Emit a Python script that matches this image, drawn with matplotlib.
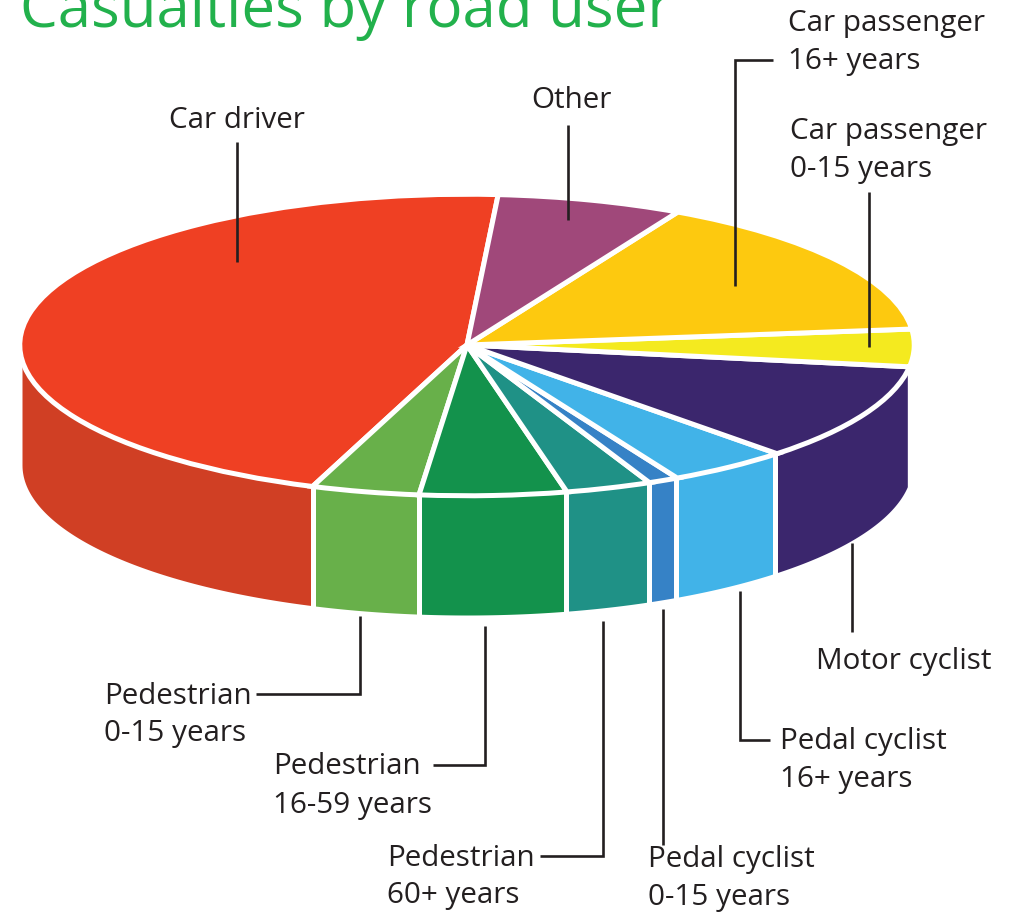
"""
Casualties by road user, drawn as a tilted pie with a side wall.
"""

import numpy as np
from matplotlib import pyplot as plt

TITLE = 'Casualties by road user'

# going anticlockwise from the top of the pie
labels = ['Car driver', 'Pedestrian\n0-15 years', 'Pedestrian\n16-59 years', 'Pedestrian\n60+ years',
          'Pedal cyclist\n0-15 years', 'Pedal cyclist\n16+ years', 'Motor cyclist',
          'Car passenger\n0-15 years', 'Car passenger\n16+ years', 'Other']
shares = [45.5, 3.9, 5.3, 3.1, 1.1, 4.4, 10.5, 4.0, 15.5, 6.7]
colors = ['#EF4023', '#68B04A', '#13924C', '#1F9186', '#3682C6', '#41B3E8', '#3B266D',
          '#F4EA1F', '#FDC90F', '#A0487A']
wall_colors = ['#D03F24', '#68B04A', '#13924C', '#1F9186', '#3682C6', '#41B3E8', '#3B266D',
               '#F4EA1F', '#FDC90F', '#A0487A']

W, H = 1013, 913
CX, CY = 467, 345
RX, RY, DEPTH = 445, 150, 120
INK = '#231F20'
FONT = 'Open Sans'

fig = plt.figure(figsize=(W / 100, H / 100), dpi=100)
ax = fig.add_axes([0, 0, 1, 1])
wedges, _ = ax.pie(shares, colors=colors, startangle=86.0, radius=1.005,
                   wedgeprops={'edgecolor': 'white', 'linewidth': 3.6, 'zorder': 3})

# squash the pie: one data unit is RX pixels across and RY pixels down
ax.set_aspect('auto')
ax.set_xlim(-CX / RX, (W - CX) / RX)
ax.set_ylim((CY - H) / RY, CY / RY)

depth = DEPTH / RY
for wedge, wall_color in zip(wedges, wall_colors):
    if wedge.theta2 > 360 or wedge.theta2 <= 180:
        continue
    t = np.radians(np.linspace(max(wedge.theta1, 180), wedge.theta2, 80))
    ax.fill_between(np.cos(t), np.sin(t), np.sin(t) - depth, color=wall_color, linewidth=0, zorder=1)
    if wedge.theta1 > 180:
        ax.plot([np.cos(t[0])] * 2, [np.sin(t[0]), np.sin(t[0]) - depth - 0.02],
                color='white', lw=3.6, solid_capstyle='butt', zorder=2)
    if wedge.theta2 < 351:
        ax.plot([np.cos(t[-1])] * 2, [np.sin(t[-1]), np.sin(t[-1]) - depth - 0.02],
                color='white', lw=3.6, solid_capstyle='butt', zorder=2)

# labels and leaders sit on a pixel-sized overlay
over = fig.add_axes([0, 0, 1, 1])
over.set_xlim(0, W)
over.set_ylim(H, 0)
over.axis('off')
over.patch.set_alpha(0)


def callout(label, x, y, leader=None, ha='left'):
    for i, line in enumerate(label.split('\n')):
        over.text(x, y + 38 * i + 2, line, fontsize=21.3, color=INK, family=FONT, ha=ha, va='center')
    if leader:
        over.plot(*zip(*leader), color=INK, lw=1.9, solid_joinstyle='miter', solid_capstyle='butt')


over.text(20, 27, TITLE, fontsize=43.2, color='#22B14C', family=FONT, va='baseline')

callout(labels[0], 237, 119, [(237, 142), (237, 262)], ha='center')
callout(labels[9], 571, 99, [(568, 125), (568, 220)], ha='center')
callout(labels[8], 788, 21, [(773, 60), (735, 60), (735, 286)])
callout(labels[7], 790, 129, [(869, 192), (869, 347)])
callout(labels[6], 816, 660, [(852, 543), (852, 632)])
callout(labels[5], 780, 740, [(740, 591), (740, 740), (770, 740)])
callout(labels[4], 648, 858, [(663, 609), (663, 845)])
callout(labels[3], 387, 856, [(603, 621), (603, 856), (540, 856)])
callout(labels[2], 273, 765, [(485, 626), (485, 765), (433, 765)])
callout(labels[1], 104, 694, [(360, 616), (360, 694), (256, 694)])

fig.savefig('out.png', dpi=100)
